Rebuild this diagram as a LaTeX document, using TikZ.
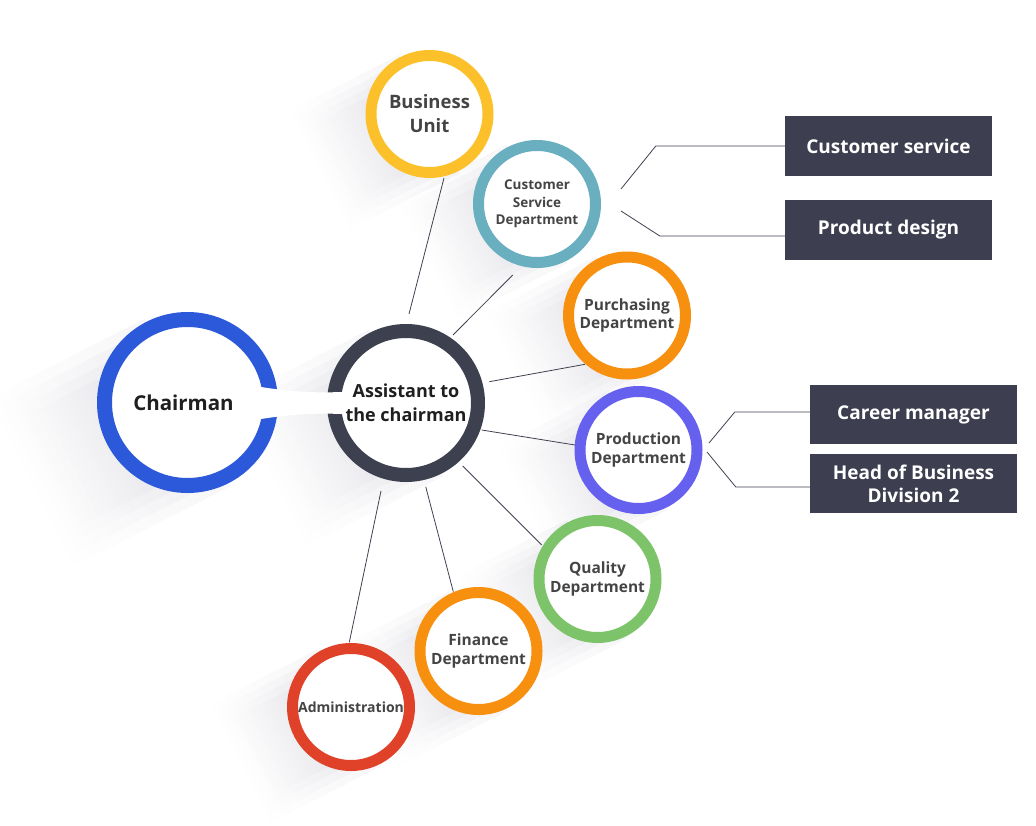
\documentclass[tikz,border=0pt]{standalone}
\usepackage{fontspec}
\setmainfont{Open Sans}
\usetikzlibrary{calc,backgrounds}
\definecolor{cBlue}{HTML}{2C59D9}
\definecolor{cDark}{HTML}{3D404E}
\definecolor{cYellow}{HTML}{FCC12A}
\definecolor{cTeal}{HTML}{6AAFBF}
\definecolor{cOrange}{HTML}{F8900F}
\definecolor{cPurple}{HTML}{6560EE}
\definecolor{cGreen}{HTML}{7DC36A}
\definecolor{cRed}{HTML}{DF4228}
\definecolor{cBox}{HTML}{3D3F50}
\definecolor{cLine}{HTML}{3F4150}
\definecolor{cText}{HTML}{444444}
\definecolor{cMain}{HTML}{1F1F1F}
\newcommand\lshadow[2]{%
  \begin{scope}[shift={(#1.center)}, rotate=207]
    \foreach \w in {1.04,0.92,0.8,0.68}{
      \foreach \k in {1,...,8}{\fill[black!80!blue, opacity=0.0058] (0,-\w*#2) rectangle ({#2*1.9*\k/8*(0.6+0.4*\w)}, \w*#2);}}
  \end{scope}}
\tikzset{
  ring/.style={circle, fill=white, inner sep=0pt, outer sep=0pt, align=center, text=cText},
  dept/.style={ring, line width=11, minimum size=117, font=\bfseries\fontsize{15.5}{18.5}\selectfont},
  sbox/.style={fill=cBox, text=white, align=center, inner sep=0pt, minimum width=207, minimum height=60, font=\bfseries\fontsize{19}{23}\selectfont},
  link/.style={draw=cLine, line width=0.8}
}
\begin{document}
\begin{tikzpicture}[x=1pt, y=1pt]
\useasboundingbox (0,0) rectangle (1036,-826);
% circles
\node[ring, draw=cBlue, line width=15, minimum size=166, text=cMain, font=\bfseries\fontsize{20.5}{24}\selectfont] (chair) at (187.5,-402.5) {Chairman\hspace*{8pt}};
\node[ring, draw=cDark, line width=14, minimum size=144, text=cMain, font=\bfseries\fontsize{18}{24}\selectfont] (asst) at (406,-403) {Assistant to\\the chairman};
\node[dept, draw=cYellow, font=\bfseries\fontsize{18.5}{24}\selectfont] (bu) at (429.5,-114) {Business\\Unit};
\node[dept, draw=cTeal, font=\bfseries\fontsize{13.5}{17.5}\selectfont] (cs) at (537,-204) {Customer\\Service\\Department};
\node[dept, draw=cOrange] (pur) at (627,-315.5) {Purchasing\\Department};
\node[dept, draw=cPurple] (prod) at (638.5,-450) {Production\\Department};
\node[dept, draw=cGreen] (qual) at (597.5,-579) {Quality\\Department};
\node[dept, draw=cOrange] (fin) at (478.5,-651) {Finance\\Department};
\node[dept, draw=cRed, font=\bfseries\fontsize{14}{17}\selectfont] (adm) at (351,-707) {Administration};
% bridge between chairman and assistant
\fill[white] (255,-386) .. controls (290,-392) and (315,-393) .. (342,-392) -- (342,-414) .. controls (315,-413) and (290,-414) .. (255,-420) -- cycle;
% shadows
\begin{pgfonlayer}{background}
\lshadow{chair}{90.5}
\lshadow{asst}{79}
\lshadow{bu}{64}
\lshadow{cs}{64}
\lshadow{pur}{64}
\lshadow{prod}{64}
\lshadow{qual}{64}
\lshadow{fin}{64}
\lshadow{adm}{64}
\end{pgfonlayer}
% spokes
\draw[link] ($(asst.center)+(3,89)$) -- ($(bu.center)+(14.5,-64)$);
\draw[link] ($(asst.center)+(47,68)$) -- ($(cs.center)+(-24.3,-71)$);
\draw[link] ($(asst.center)+(83.3,21.3)$) -- ($(pur.center)+(-42,-48.8)$);
\draw[link] ($(asst.center)+(75.7,-27)$) -- ($(prod.center)+(-63.5,5)$);
\draw[link] ($(asst.center)+(56.7,-63)$) -- ($(qual.center)+(-55.8,34)$);
\draw[link] ($(asst.center)+(19.7,-83.7)$) -- ($(fin.center)+(-25.2,59.3)$);
\draw[link] ($(asst.center)+(-25,-88)$) -- ($(adm.center)+(-1.7,64.7)$);
% side boxes
\node[sbox] (b1) at (888.5,-146) {Customer service};
\node[sbox] (b2) at (888.5,-230) {Product design};
\node[sbox, minimum height=59] (b3) at (913.5,-414.5) {Career manager};
\node[sbox, minimum height=59] (b4) at (913.5,-483.5) {Head of Business\\Division 2};
\draw[link] ($(cs.center)+(84,15)$) -- ($(b1.west)+(-129,0)$) -- (b1.west);
\draw[link] ($(cs.center)+(84,-7)$) -- ($(b2.west)+(-125,-6)$) -- ($(b2.west)+(0,-6)$);
\draw[link] ($(prod.center)+(70.5,7)$) -- ($(b3.west)+(-75,2.5)$) -- ($(b3.west)+(0,2.5)$);
\draw[link] ($(prod.center)+(68.5,-2)$) -- ($(b4.west)+(-74,-3.5)$) -- ($(b4.west)+(0,-3.5)$);
\end{tikzpicture}
\end{document}
